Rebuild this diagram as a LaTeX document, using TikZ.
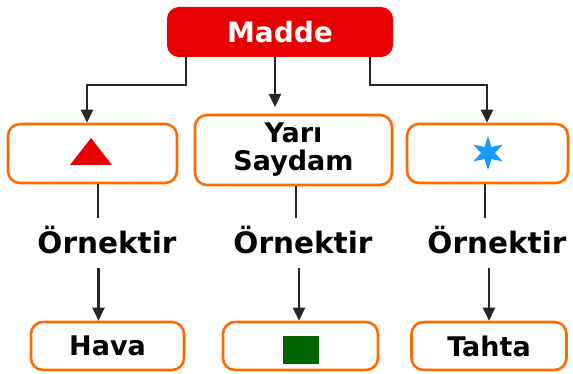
\documentclass[tikz,border=0pt]{standalone}
\usepackage{fontspec}
\setmainfont{DejaVu Sans}
\usetikzlibrary{arrows.meta,calc}
\definecolor{boxorange}{HTML}{FF6A00}
\definecolor{maddered}{HTML}{E80000}
\definecolor{starblue}{HTML}{1A9BFF}
\definecolor{sqgreen}{HTML}{006400}
\tikzset{
  obox/.style={draw=boxorange, line width=2.6pt, rounded corners=12pt, fill=white, inner sep=0pt, align=center, font=\bfseries\fontsize{27}{28}\selectfont},
  rbox/.style={fill=maddered, rounded corners=12pt, inner sep=0pt, text=white, font=\bfseries\fontsize{28}{28}\selectfont},
  lbl/.style={inner sep=0pt, font=\bfseries\fontsize{29.5}{30}\selectfont},
  conn/.style={draw=black!85, line width=2.4pt},
  arr/.style={conn, -{Triangle[length=13pt,width=12pt]}},
}
\begin{document}
\begin{tikzpicture}[x=1pt,y=-1pt]
\useasboundingbox (0,0) rectangle (573,374);
% top node
\node[rbox, minimum width=226pt, minimum height=50pt] (madde) at (280,32) {Madde};
% second row
\node[obox, minimum width=169pt, minimum height=59pt] (b1) at (92.5,153.5) {};
\node[obox, minimum width=197pt, minimum height=70pt] (b2) at (293.5,150) {Yarı\\Saydam};
\node[obox, minimum width=161pt, minimum height=59pt] (b3) at (487.5,153.5) {};
% bottom row
\node[obox, minimum width=153pt, minimum height=48pt] (c1) at (107.5,346) {Hava};
\node[obox, minimum width=155pt, minimum height=48pt] (c2) at (300.5,346) {};
\node[obox, minimum width=155pt, minimum height=48pt] (c3) at (489,346) {Tahta};
% labels
\node[lbl] (o1) at (107,240) {Örnektir};
\node[lbl] (o2) at (303,240) {Örnektir};
\node[lbl] (o3) at (497,240) {Örnektir};
% symbols
\fill[maddered] (70,165) -- (112,165) -- (91,138) -- cycle;
\fill[starblue]
  ($(488,153)+(90:17)$) -- ($(488,153)+(120:7)$) --
  ($(488,153)+(150:17)$) -- ($(488,153)+(180:7)$) --
  ($(488,153)+(210:17)$) -- ($(488,153)+(240:7)$) --
  ($(488,153)+(270:17)$) -- ($(488,153)+(300:7)$) --
  ($(488,153)+(330:17)$) -- ($(488,153)+(0:7)$) --
  ($(488,153)+(30:17)$) -- ($(488,153)+(60:7)$) -- cycle;
\fill[sqgreen] (283,336) rectangle (319,364);
% connectors from Madde
\coordinate (jl) at (87,85);
\coordinate (jr) at (487,85);
\draw[arr] (madde.south -| 186,0) |- (jl) -- (jl |- b1.north);
\draw[arr] (madde.south -| 275,0) -- (275,107);
\draw[arr] (madde.south -| 370,0) |- (jr) -- (jr |- b3.north);
% column connectors
\draw[conn] (b1.south -| 98,0) -- (98,218);
\draw[conn] (b2.south -| 296,0) -- (296,218);
\draw[conn] (b3.south -| 485,0) -- (485,218);
\coordinate (a1) at (98.5,268);
\coordinate (a2) at (299,268);
\coordinate (a3) at (489,268);
\draw[arr] (a1) -- (a1 |- c1.north);
\draw[arr] (a2) -- (a2 |- c2.north);
\draw[arr] (a3) -- (a3 |- c3.north);
\end{tikzpicture}
\end{document}
